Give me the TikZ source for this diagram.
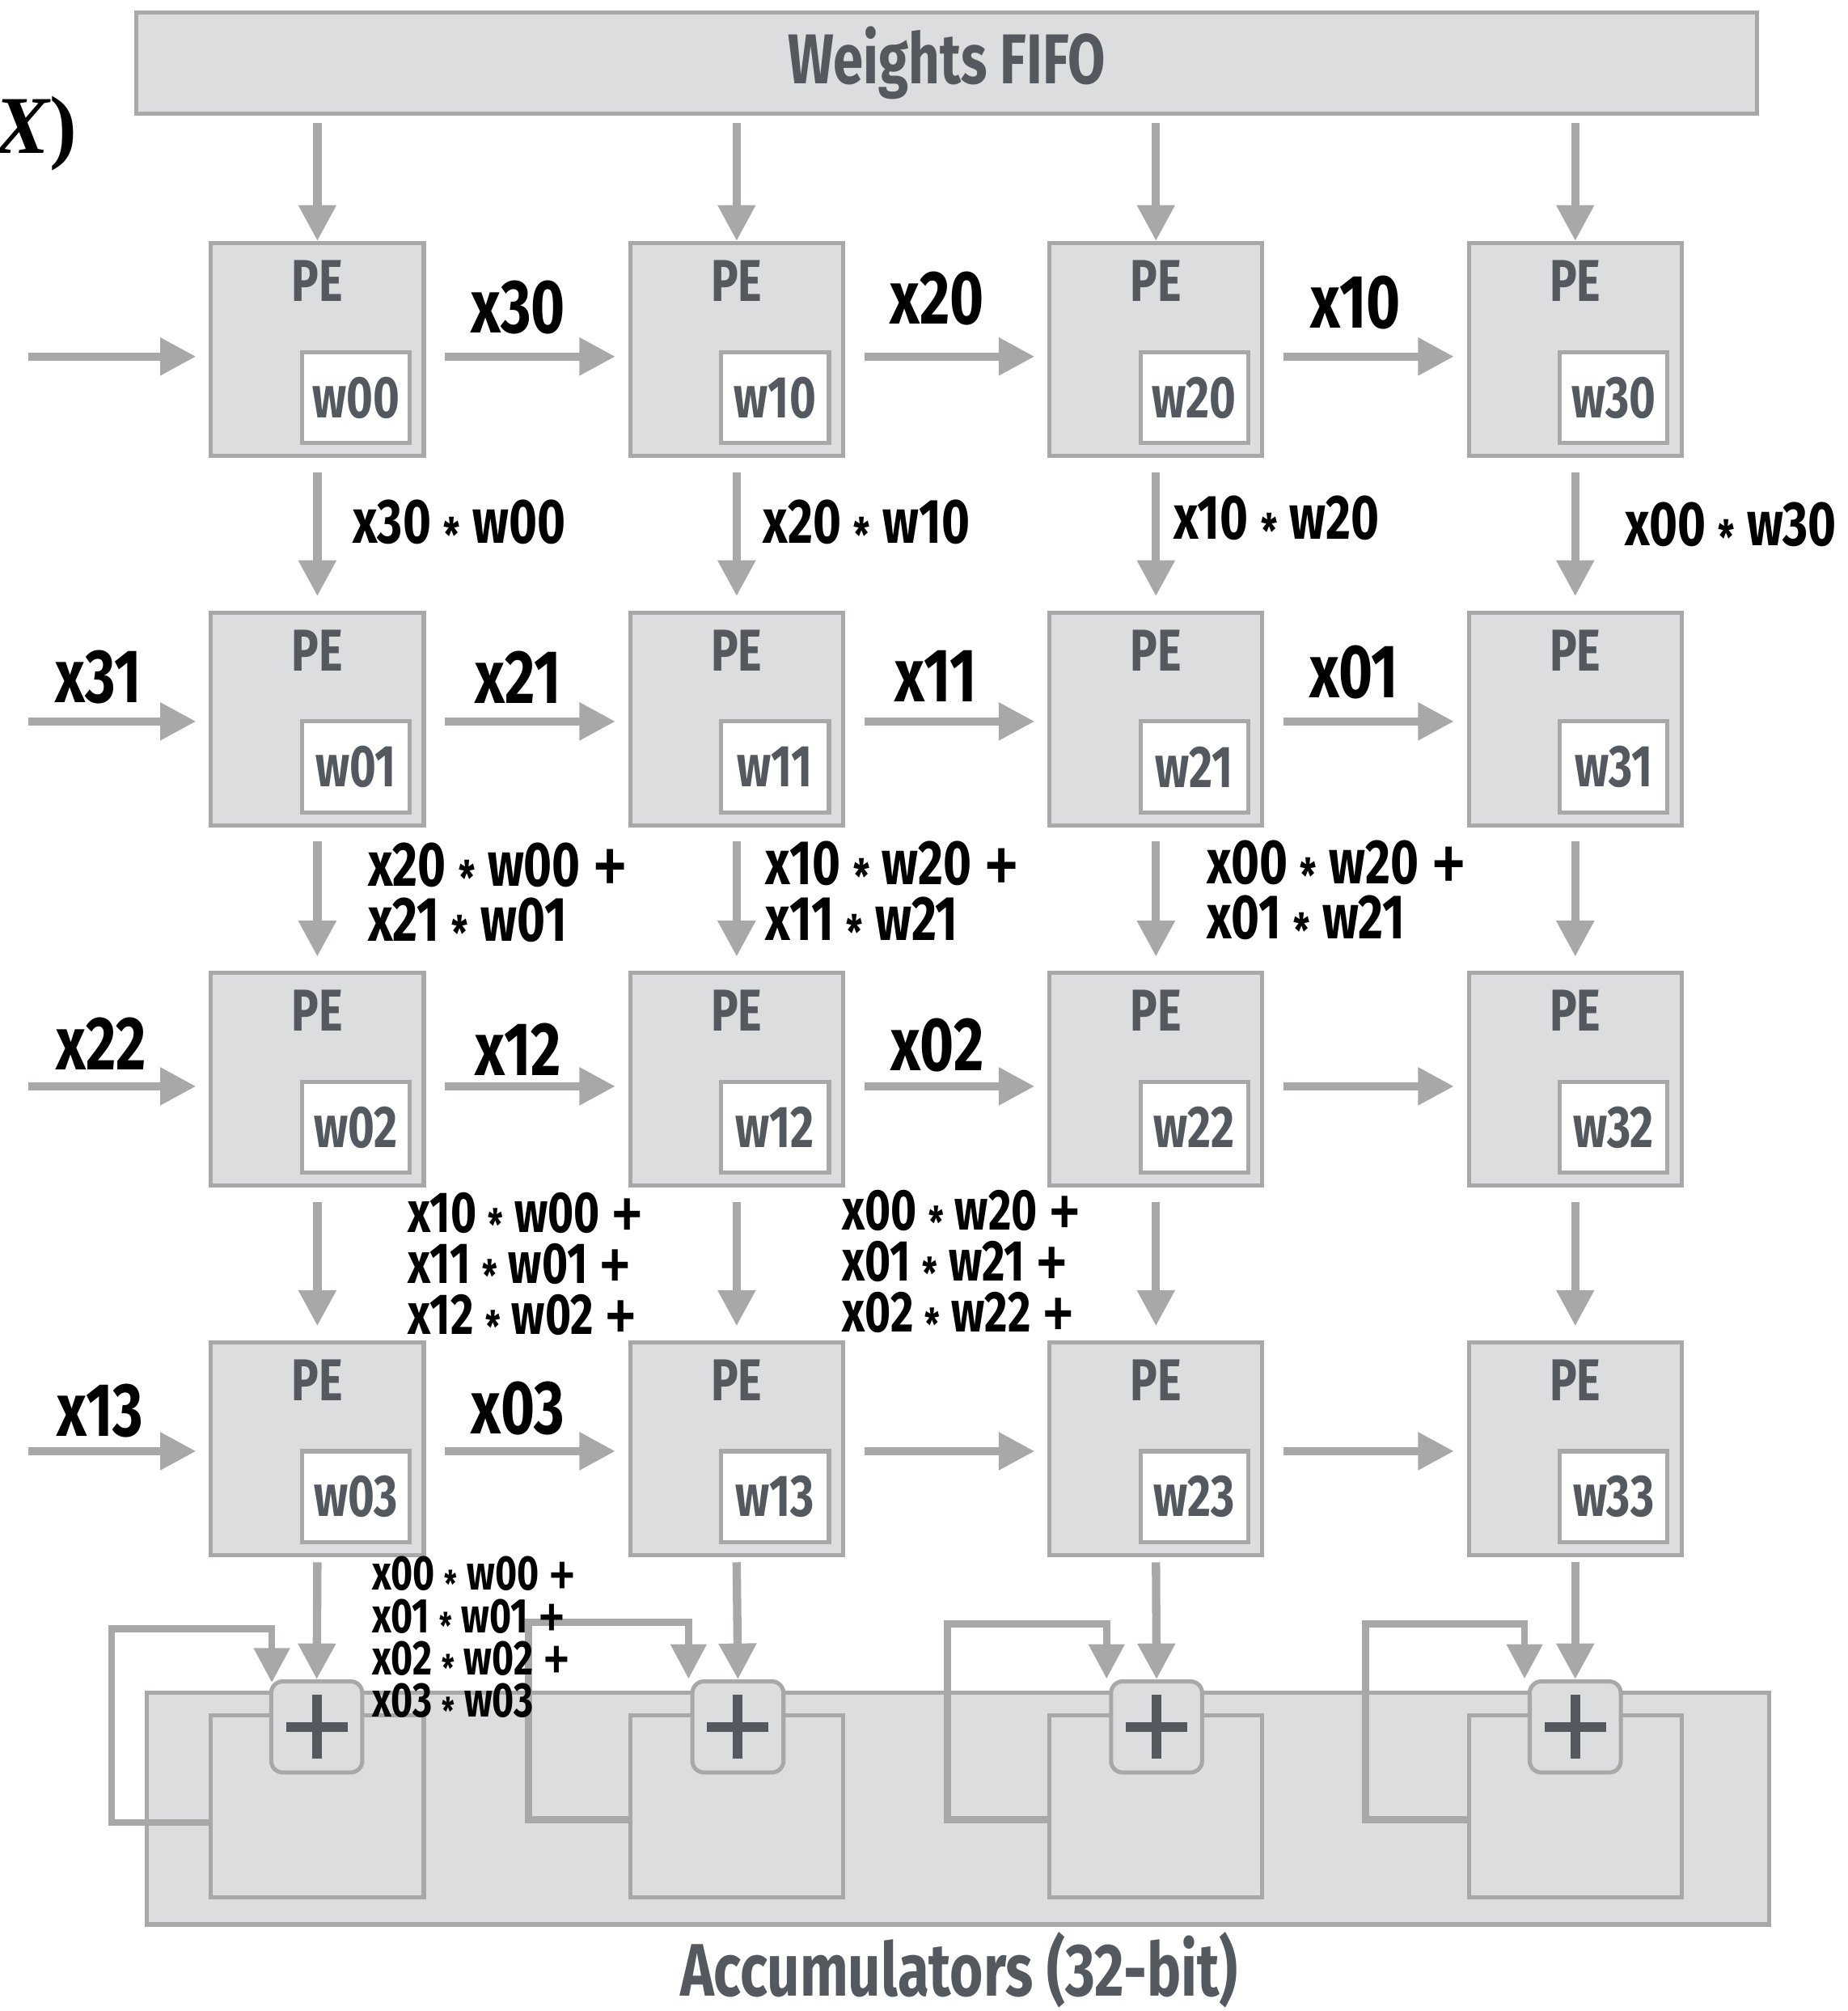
\documentclass[tikz,border=0pt]{standalone}
\usepackage{fontspec}
\setmainfont{Fira Sans}[FakeStretch=0.77]
\newfontfamily\serifx{Liberation Serif}
\usetikzlibrary{arrows.meta,calc}
\definecolor{boxfill}{HTML}{DCDDDF}
\definecolor{boxline}{HTML}{A7A9A9}
\definecolor{arrowgray}{HTML}{A6A9A8}
\definecolor{darktext}{HTML}{54585F}
\newcommand\tms{\hspace{0.2em}\raisebox{-0.14em}{\scalebox{0.75}{*}}\hspace{0.2em}}
\newcommand\pls{\hspace{0.18em}\raisebox{-0.17em}{\scalebox{1.55}[1.45]{\mdseries +}}}
\newcommand\fsz[2]{\fontsize{#1}{#2}\selectfont\bfseries}
\begin{document}
\begin{tikzpicture}[x=1pt,y=-1pt,
  pebox/.style={draw=boxline, fill=boxfill, line width=3.2pt, minimum width=166pt, minimum height=166pt, inner sep=0pt},
  wbox/.style={draw=boxline, fill=white, line width=3.2pt, minimum width=84pt, minimum height=71pt, inner sep=0pt, font=\fsz{46}{46}, text=darktext},
  pelabel/.style={font=\fsz{46}{46}, text=darktext, inner sep=0pt},
  xlab/.style={font=\fsz{59}{59}, inner sep=0pt},
  prod/.style={font=\fsz{49}{42}, inner sep=0pt, align=left, anchor=west},
  prodb/.style={font=\fsz{45}{38.5}, inner sep=0pt, align=left, anchor=west},
  prodc/.style={font=\fsz{38}{33}, inner sep=0pt, align=left, anchor=west},
  garrow/.style={draw=arrowgray, line width=6.5pt, -{Triangle[length=28pt,width=28pt]}},
  fback/.style={draw=arrowgray, line width=5.5pt, -{Triangle[length=27pt,width=27pt]}},
  adder/.style={draw=boxline, fill=boxfill, line width=3.2pt, rounded corners=9pt, minimum width=71pt, minimum height=71pt, inner sep=0pt},
  plus/.style={draw=darktext, line width=7.5pt},
  accbox/.style={draw=boxline, fill=boxfill, line width=3.2pt, inner sep=0pt}
]
\useasboundingbox (0,0) rectangle (1441,1568);

% top-left fragment
\node[font=\serifx\fontsize{64}{64}\selectfont\bfseries, inner sep=0pt, anchor=east] (xfrag) at (60,104) {\itshape X\upshape)};

% Weights FIFO
\node[accbox, minimum width=1264pt, minimum height=79pt, font=\fsz{55}{55}, text=darktext] (fifo) at (738.5,49) {Weights FIFO};

% Accumulators
\node[accbox, minimum width=1265pt, minimum height=181pt] (acc) at (747,1410) {};
\node[font=\fsz{58}{58}, text=darktext, inner sep=0pt] (acclab) at (748,1536) {Accumulators (32-bit)};

\foreach \c/\x in {1/247.5,2/574.5,3/901.5,4/1228.5}{
  \node[accbox, minimum width=166pt, minimum height=142pt] (acc\c) at (\x,1408.5) {};
}

% feedback loops
\draw[fback] ([shift={(0,12.5)}]acc1.west) -| (87,1270) -| (212,1312);
\draw[fback] ([shift={(0,10.5)}]acc2.west) -| (412,1265) -| (537,1309);
\draw[fback] ([shift={(0,10.5)}]acc3.west) -| (739,1266) -| (863,1309);
\draw[fback] ([shift={(0,10.5)}]acc4.west) -| (1065,1266) -| (1189,1309);

% adders
\foreach \c/\x in {1/247,2/575.5,3/902,4/1228.5}{
  \node[adder] (add\c) at (\x,1346.5) {};
  \draw[plus] ([shift={(-24,0)}]add\c.center) -- ([shift={(24,0)}]add\c.center);
  \draw[plus] ([shift={(0,-25)}]add\c.center) -- ([shift={(0,25)}]add\c.center);
}

% PE grid
\foreach \c/\x in {1/247.5,2/574.5,3/901.5,4/1228.5}{
  \foreach \r/\y in {1/272.5,2/560.5,3/841.5,4/1129.5}{
    \node[pebox] (pe\c\r) at (\x,\y) {};
    \node[pelabel] (pl\c\r) at (\x,\y-53.5) {PE};
    \pgfmathtruncatemacro\ci{\c-1}
    \pgfmathtruncatemacro\ri{\r-1}
    \node[wbox] (w\c\r) at (\x+30,\y+37.5) {w\ci\ri};
  }
}

% arrows from FIFO
\foreach \c in {1,2,3,4}{
  \draw[garrow] ($(pe\c1.north |- fifo.south)+(0,6)$) -- (pe\c1.north);
}

% horizontal arrows between PEs
\foreach \r/\o in {1/5.5,2/2,3/5.5,4/2}{
  \foreach \c/\n in {1/2,2/3,3/4}{
    \draw[garrow] ([shift={(15,\o)}]pe\c\r.east) -- ([shift={(-10,\o)}]pe\n\r.west);
  }
  \coordinate (in\r) at ([shift={(-141,\o)}]pe1\r.west);
  \draw[garrow] (in\r) -- ([shift={(-10,\o)}]pe1\r.west);
}

% vertical arrows between rows
\foreach \c in {1,2,3,4}{
  \foreach \r/\n in {1/2,2/3,3/4}{
    \draw[garrow] ([shift={(0,11)}]pe\c\r.south) -- ([shift={(0,-11)}]pe\c\n.north);
  }
  \draw[garrow] ([shift={(0,4)}]pe\c4.south) -- (add\c.north);
}

% input labels
\node[xlab] (lx30) at (404,240) {x30};
\node[xlab] (lx20) at (731,233) {x20};
\node[xlab] (lx10) at (1057,236) {x10};
\node[xlab] (lx31) at (77,528) {x31};
\node[xlab] (lx21) at (404,528) {x21};
\node[xlab] (lx11) at (730,527) {x11};
\node[xlab] (lx01) at (1056,524) {x01};
\node[xlab] (lx22) at (79,814) {x22};
\node[xlab] (lx12) at (404,818) {x12};
\node[xlab] (lx02) at (731,815) {x02};
\node[xlab] (lx13) at (78,1100) {x13};
\node[xlab] (lx03) at (404,1098) {x03};

% partial sums
\node[prod] (p11) at (275,410) {x30\tms w00};
\node[prod] (p21) at (595,410) {x20\tms w10};
\node[prod] (p31) at (915,407) {x10\tms w20};
\node[prod] (p41) at (1267,412) {x00\tms w30};
\node[prod] (p12) at (287,699) {x20\tms w00\pls\\x21\tms w01};
\node[prod] (p22) at (597,698) {x10\tms w20\pls\\x11\tms w21};
\node[prod] (p32) at (941,697) {x00\tms w20\pls\\x01\tms w21};
\node[prodb] (p13) at (318,989) {x10\tms w00\pls\\x11\tms w01\pls\\x12\tms w02\pls};
\node[prodb] (p23) at (657,987) {x00\tms w20\pls\\x01\tms w21\pls\\x02\tms w22\pls};
\node[prodc] (p14) at (290,1279) {x00\tms w00\pls\\x01\tms w01\pls\\x02\tms w02\pls\\x03\tms w03};
\end{tikzpicture}
\end{document}
